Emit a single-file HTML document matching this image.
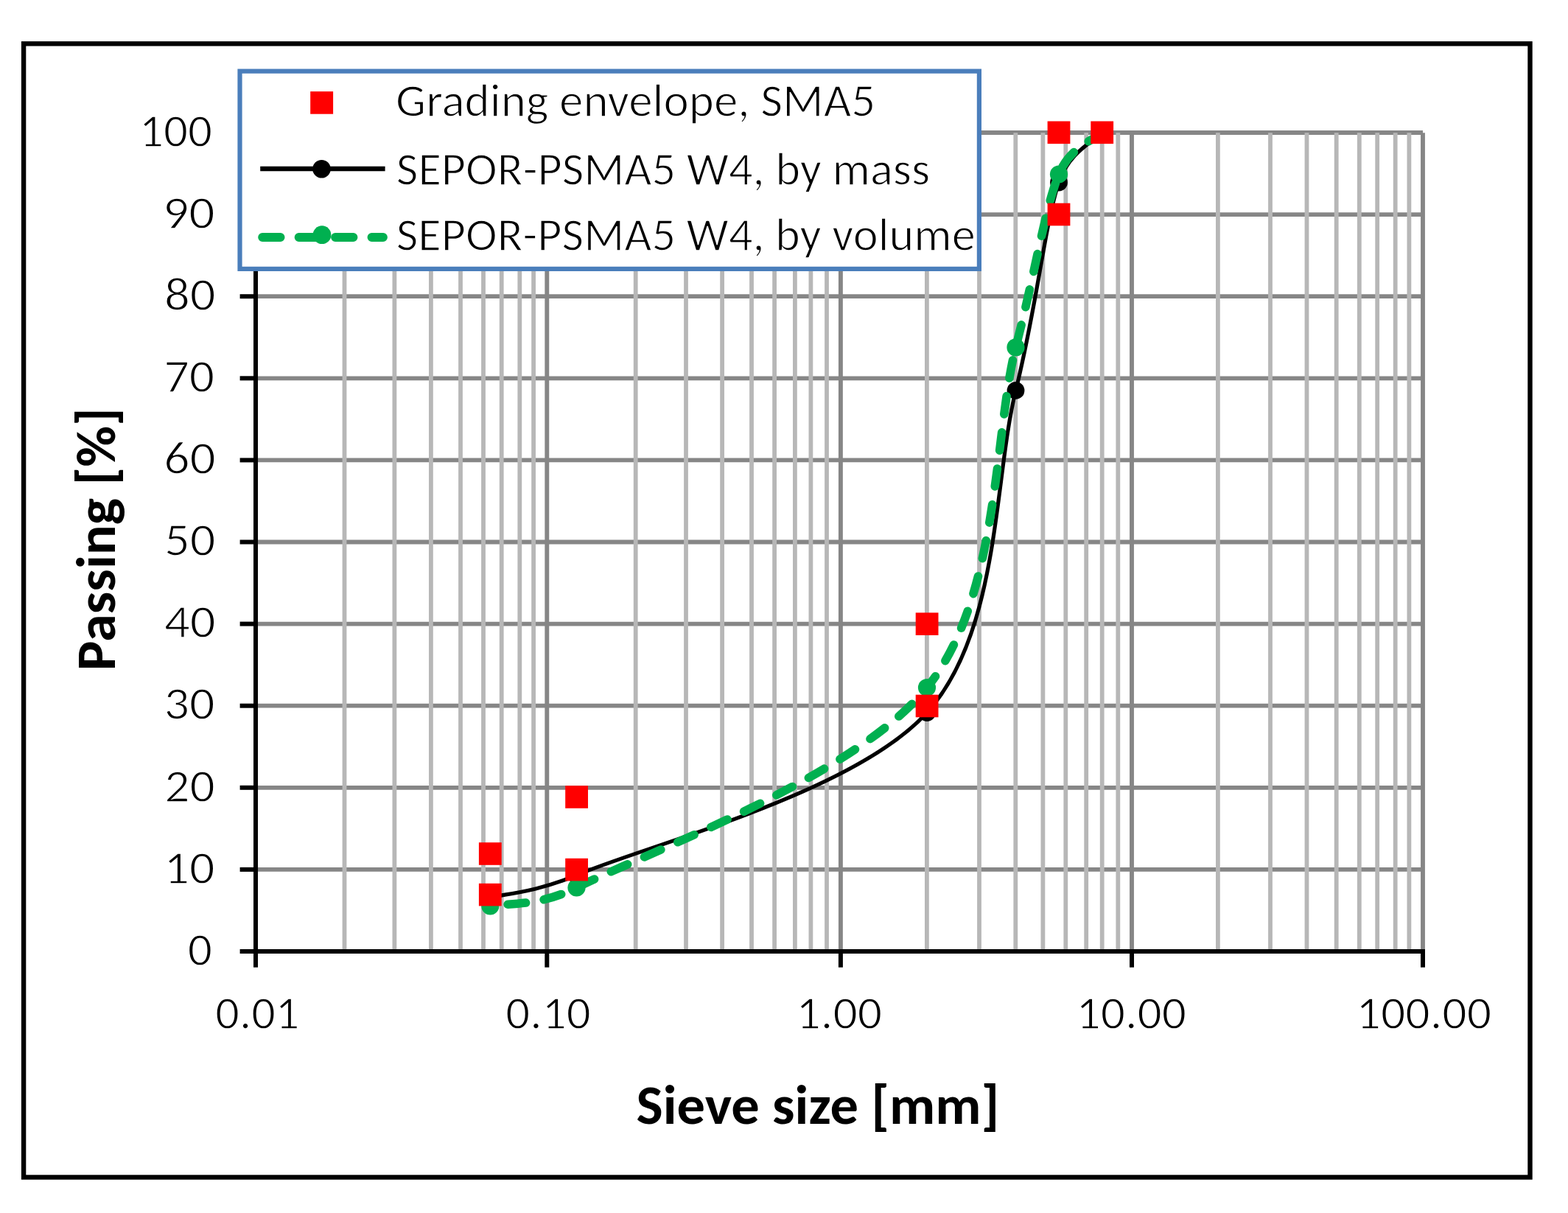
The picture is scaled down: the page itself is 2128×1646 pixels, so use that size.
<!DOCTYPE html><html><head><meta charset="utf-8"><title>Grading curve</title><style>html,body{margin:0;padding:0;background:#fff;overflow:hidden;}svg{display:block;}text{font-family:Carlito, "Liberation Sans", sans-serif;}</style></head><body>
<svg width="2128" height="1646" viewBox="0 0 2128 1646">
<rect x="0" y="0" width="2128" height="1646" fill="#fff"/>
<line x1="347" y1="1179.9" x2="1931" y2="1179.9" stroke="#868686" stroke-width="5.8"/>
<line x1="347" y1="1068.8" x2="1931" y2="1068.8" stroke="#868686" stroke-width="5.8"/>
<line x1="347" y1="957.7" x2="1931" y2="957.7" stroke="#868686" stroke-width="5.8"/>
<line x1="347" y1="846.6" x2="1931" y2="846.6" stroke="#868686" stroke-width="5.8"/>
<line x1="347" y1="735.5" x2="1931" y2="735.5" stroke="#868686" stroke-width="5.8"/>
<line x1="347" y1="624.4" x2="1931" y2="624.4" stroke="#868686" stroke-width="5.8"/>
<line x1="347" y1="513.3" x2="1931" y2="513.3" stroke="#868686" stroke-width="5.8"/>
<line x1="347" y1="402.2" x2="1931" y2="402.2" stroke="#868686" stroke-width="5.8"/>
<line x1="347" y1="291.1" x2="1931" y2="291.1" stroke="#868686" stroke-width="5.8"/>
<line x1="347" y1="180.0" x2="1931" y2="180.0" stroke="#868686" stroke-width="5.8"/>
<line x1="467.5" y1="180.3" x2="467.5" y2="1291" stroke="#b7b7b7" stroke-width="5.8"/>
<line x1="535.4" y1="180.3" x2="535.4" y2="1291" stroke="#b7b7b7" stroke-width="5.8"/>
<line x1="584.9" y1="180.3" x2="584.9" y2="1291" stroke="#b7b7b7" stroke-width="5.8"/>
<line x1="625.0" y1="180.3" x2="625.0" y2="1291" stroke="#b7b7b7" stroke-width="5.8"/>
<line x1="656.0" y1="180.3" x2="656.0" y2="1291" stroke="#b7b7b7" stroke-width="5.8"/>
<line x1="680.7" y1="180.3" x2="680.7" y2="1291" stroke="#b7b7b7" stroke-width="5.8"/>
<line x1="705.3" y1="180.3" x2="705.3" y2="1291" stroke="#b7b7b7" stroke-width="5.8"/>
<line x1="724.1" y1="180.3" x2="724.1" y2="1291" stroke="#b7b7b7" stroke-width="5.8"/>
<line x1="862.7" y1="180.3" x2="862.7" y2="1291" stroke="#b7b7b7" stroke-width="5.8"/>
<line x1="931.0" y1="180.3" x2="931.0" y2="1291" stroke="#b7b7b7" stroke-width="5.8"/>
<line x1="980.1" y1="180.3" x2="980.1" y2="1291" stroke="#b7b7b7" stroke-width="5.8"/>
<line x1="1020.0" y1="180.3" x2="1020.0" y2="1291" stroke="#b7b7b7" stroke-width="5.8"/>
<line x1="1051.1" y1="180.3" x2="1051.1" y2="1291" stroke="#b7b7b7" stroke-width="5.8"/>
<line x1="1078.9" y1="180.3" x2="1078.9" y2="1291" stroke="#b7b7b7" stroke-width="5.8"/>
<line x1="1100.4" y1="180.3" x2="1100.4" y2="1291" stroke="#b7b7b7" stroke-width="5.8"/>
<line x1="1122.0" y1="180.3" x2="1122.0" y2="1291" stroke="#b7b7b7" stroke-width="5.8"/>
<line x1="1257.9" y1="180.3" x2="1257.9" y2="1291" stroke="#b7b7b7" stroke-width="5.8"/>
<line x1="1329.0" y1="180.3" x2="1329.0" y2="1291" stroke="#b7b7b7" stroke-width="5.8"/>
<line x1="1378.3" y1="180.3" x2="1378.3" y2="1291" stroke="#b7b7b7" stroke-width="5.8"/>
<line x1="1415.4" y1="180.3" x2="1415.4" y2="1291" stroke="#b7b7b7" stroke-width="5.8"/>
<line x1="1446.3" y1="180.3" x2="1446.3" y2="1291" stroke="#b7b7b7" stroke-width="5.8"/>
<line x1="1474.2" y1="180.3" x2="1474.2" y2="1291" stroke="#b7b7b7" stroke-width="5.8"/>
<line x1="1495.7" y1="180.3" x2="1495.7" y2="1291" stroke="#b7b7b7" stroke-width="5.8"/>
<line x1="1517.3" y1="180.3" x2="1517.3" y2="1291" stroke="#b7b7b7" stroke-width="5.8"/>
<line x1="1652.9" y1="180.3" x2="1652.9" y2="1291" stroke="#b7b7b7" stroke-width="5.8"/>
<line x1="1724.0" y1="180.3" x2="1724.0" y2="1291" stroke="#b7b7b7" stroke-width="5.8"/>
<line x1="1773.5" y1="180.3" x2="1773.5" y2="1291" stroke="#b7b7b7" stroke-width="5.8"/>
<line x1="1813.7" y1="180.3" x2="1813.7" y2="1291" stroke="#b7b7b7" stroke-width="5.8"/>
<line x1="1844.8" y1="180.3" x2="1844.8" y2="1291" stroke="#b7b7b7" stroke-width="5.8"/>
<line x1="1869.2" y1="180.3" x2="1869.2" y2="1291" stroke="#b7b7b7" stroke-width="5.8"/>
<line x1="1893.7" y1="180.3" x2="1893.7" y2="1291" stroke="#b7b7b7" stroke-width="5.8"/>
<line x1="1912.4" y1="180.3" x2="1912.4" y2="1291" stroke="#b7b7b7" stroke-width="5.8"/>
<line x1="742.3" y1="180.3" x2="742.3" y2="1291" stroke="#868686" stroke-width="5.9"/>
<line x1="1140.9" y1="180.3" x2="1140.9" y2="1291" stroke="#868686" stroke-width="5.9"/>
<line x1="1536.0" y1="180.3" x2="1536.0" y2="1291" stroke="#868686" stroke-width="5.9"/>
<line x1="1931.0" y1="180.3" x2="1931.0" y2="1291" stroke="#868686" stroke-width="5.9"/>
<line x1="347" y1="177" x2="347" y2="1294.1" stroke="#000" stroke-width="6"/>
<line x1="344" y1="1291.1" x2="1934" y2="1291.1" stroke="#000" stroke-width="6"/>
<line x1="325.6" y1="1291.0" x2="347" y2="1291.0" stroke="#000" stroke-width="6"/>
<line x1="325.6" y1="1179.9" x2="347" y2="1179.9" stroke="#000" stroke-width="6"/>
<line x1="325.6" y1="1068.8" x2="347" y2="1068.8" stroke="#000" stroke-width="6"/>
<line x1="325.6" y1="957.7" x2="347" y2="957.7" stroke="#000" stroke-width="6"/>
<line x1="325.6" y1="846.6" x2="347" y2="846.6" stroke="#000" stroke-width="6"/>
<line x1="325.6" y1="735.5" x2="347" y2="735.5" stroke="#000" stroke-width="6"/>
<line x1="325.6" y1="624.4" x2="347" y2="624.4" stroke="#000" stroke-width="6"/>
<line x1="325.6" y1="513.3" x2="347" y2="513.3" stroke="#000" stroke-width="6"/>
<line x1="325.6" y1="402.2" x2="347" y2="402.2" stroke="#000" stroke-width="6"/>
<line x1="325.6" y1="291.1" x2="347" y2="291.1" stroke="#000" stroke-width="6"/>
<line x1="325.6" y1="180.0" x2="347" y2="180.0" stroke="#000" stroke-width="6"/>
<line x1="347.0" y1="1291" x2="347.0" y2="1312.7" stroke="#000" stroke-width="6"/>
<line x1="742.3" y1="1291" x2="742.3" y2="1312.7" stroke="#000" stroke-width="6"/>
<line x1="1140.9" y1="1291" x2="1140.9" y2="1312.7" stroke="#000" stroke-width="6"/>
<line x1="1536.0" y1="1291" x2="1536.0" y2="1312.7" stroke="#000" stroke-width="6"/>
<line x1="1931.0" y1="1291" x2="1931.0" y2="1312.7" stroke="#000" stroke-width="6"/>
<text x="189.06" y="198.70" font-size="63" textLength="99.08" lengthAdjust="spacingAndGlyphs" fill="#000" stroke="#fff" stroke-width="1.4">100</text>
<text x="220.97" y="309.70" font-size="63" textLength="70.66" lengthAdjust="spacingAndGlyphs" fill="#000" stroke="#fff" stroke-width="1.4">90</text>
<text x="222.98" y="420.50" font-size="63" textLength="69.65" lengthAdjust="spacingAndGlyphs" fill="#000" stroke="#fff" stroke-width="1.4">80</text>
<text x="222.49" y="531.50" font-size="63" textLength="68.65" lengthAdjust="spacingAndGlyphs" fill="#000" stroke="#fff" stroke-width="1.4">70</text>
<text x="222.17" y="643.30" font-size="63" textLength="70.46" lengthAdjust="spacingAndGlyphs" fill="#000" stroke="#fff" stroke-width="1.4">60</text>
<text x="223.14" y="753.90" font-size="63" textLength="69.49" lengthAdjust="spacingAndGlyphs" fill="#000" stroke="#fff" stroke-width="1.4">50</text>
<text x="222.92" y="865.30" font-size="63" textLength="69.71" lengthAdjust="spacingAndGlyphs" fill="#000" stroke="#fff" stroke-width="1.4">40</text>
<text x="222.58" y="976.40" font-size="63" textLength="69.05" lengthAdjust="spacingAndGlyphs" fill="#000" stroke="#fff" stroke-width="1.4">30</text>
<text x="223.17" y="1088.20" font-size="63" textLength="68.46" lengthAdjust="spacingAndGlyphs" fill="#000" stroke="#fff" stroke-width="1.4">20</text>
<text x="222.56" y="1198.90" font-size="63" textLength="69.08" lengthAdjust="spacingAndGlyphs" fill="#000" stroke="#fff" stroke-width="1.4">10</text>
<text x="254.87" y="1309.90" font-size="63" textLength="33.26" lengthAdjust="spacingAndGlyphs" fill="#000" stroke="#fff" stroke-width="1.4">0</text>
<text x="292.37" y="1396.10" font-size="63" textLength="113.96" lengthAdjust="spacingAndGlyphs" fill="#000" stroke="#fff" stroke-width="1.4">0.01</text>
<text x="686.37" y="1396.10" font-size="63" textLength="115.26" lengthAdjust="spacingAndGlyphs" fill="#000" stroke="#fff" stroke-width="1.4">0.10</text>
<text x="1080.56" y="1396.10" font-size="63" textLength="116.58" lengthAdjust="spacingAndGlyphs" fill="#000" stroke="#fff" stroke-width="1.4">1.00</text>
<text x="1460.56" y="1396.10" font-size="63" textLength="149.58" lengthAdjust="spacingAndGlyphs" fill="#000" stroke="#fff" stroke-width="1.4">10.00</text>
<text x="1840.56" y="1396.10" font-size="63" textLength="183.58" lengthAdjust="spacingAndGlyphs" fill="#000" stroke="#fff" stroke-width="1.4">100.00</text>
<text x="863.61" y="1525.20" font-size="75" font-weight="bold" textLength="492.81" lengthAdjust="spacingAndGlyphs" fill="#000">Sieve size [mm]</text>
<text transform="translate(155.8,910.21) rotate(-90)" x="0" y="0" font-size="75" font-weight="bold" textLength="357.13" lengthAdjust="spacingAndGlyphs" fill="#000">Passing [%]</text>
<path d="M665.3,1218.0 C684.8,1212.9 726.8,1211.1 782.6,1187.5 C881.4,1145.7 1158.7,1076.6 1258.0,967.0 C1357.3,857.4 1348.7,649.8 1378.5,529.9 C1408.3,410.0 1417.5,305.8 1437.0,247.5 C1451.2,205.1 1485.9,191.2 1495.7,180.0" fill="none" stroke="#000" stroke-width="5.2" stroke-linejoin="round"/>
<circle cx="665.3" cy="1218" r="11.9" fill="#000"/>
<circle cx="782.6" cy="1187.5" r="11.9" fill="#000"/>
<circle cx="1258" cy="967" r="11.9" fill="#000"/>
<circle cx="1378.5" cy="529.9" r="11.9" fill="#000"/>
<circle cx="1437" cy="247.5" r="11.9" fill="#000"/>
<circle cx="1495.7" cy="180" r="11.9" fill="#000"/>
<path d="M665.3,1229.4 C684.8,1225.2 728.9,1231.3 782.5,1204.5 C881.3,1155.1 1158.7,1055.2 1258.0,933.0 C1357.3,810.8 1348.7,587.5 1378.5,471.4 C1408.3,355.3 1417.5,285.1 1437.0,236.5 C1452.2,198.7 1485.9,189.4 1495.7,180.0" fill="none" stroke="#00b050" stroke-width="11.6" stroke-linecap="round" stroke-linejoin="round" stroke-dasharray="24.5 24.95" stroke-dashoffset="25.3"/>
<circle cx="665.3" cy="1229.4" r="12.1" fill="#00b050"/>
<circle cx="782.5" cy="1204.5" r="12.1" fill="#00b050"/>
<circle cx="1258" cy="933" r="12.1" fill="#00b050"/>
<circle cx="1378.5" cy="471.4" r="12.1" fill="#00b050"/>
<circle cx="1437" cy="236.5" r="12.1" fill="#00b050"/>
<circle cx="1495.7" cy="180" r="12.1" fill="#00b050"/>
<rect x="649.9" y="1143.2" width="30.8" height="30.6" fill="#ff0000"/>
<rect x="649.9" y="1198.8" width="30.8" height="30.6" fill="#ff0000"/>
<rect x="767.2" y="1066.2" width="30.8" height="30.6" fill="#ff0000"/>
<rect x="767.2" y="1164.8" width="30.8" height="30.6" fill="#ff0000"/>
<rect x="1242.7" y="831.4" width="30.8" height="30.6" fill="#ff0000"/>
<rect x="1242.7" y="942.7" width="30.8" height="30.6" fill="#ff0000"/>
<rect x="1421.6" y="164.5" width="30.8" height="30.6" fill="#ff0000"/>
<rect x="1421.6" y="275.7" width="30.8" height="30.6" fill="#ff0000"/>
<rect x="1480.3" y="164.5" width="30.8" height="30.6" fill="#ff0000"/>
<rect x="325.5" y="96.6" width="1003.4" height="268.3" fill="#fff" stroke="#4a7ebb" stroke-width="6.2"/>
<rect x="421.2" y="124.1" width="30.9" height="30.6" fill="#ff0000"/>
<line x1="353.2" y1="229" x2="522.6" y2="229" stroke="#000" stroke-width="6.3"/>
<circle cx="436.5" cy="229.2" r="12.3" fill="#000"/>
<line x1="356.1" y1="322" x2="520" y2="322" stroke="#00b050" stroke-width="11.8" stroke-linecap="round" stroke-dasharray="24.5 24.95"/>
<circle cx="437" cy="318.7" r="12.4" fill="#00b050"/>
<text x="537.13" y="157.80" font-size="63" textLength="651.09" lengthAdjust="spacingAndGlyphs" fill="#000" stroke="#fff" stroke-width="1.4">Grading envelope, SMA5</text>
<text x="537.81" y="250.60" font-size="63" textLength="724.31" lengthAdjust="spacingAndGlyphs" fill="#000" stroke="#fff" stroke-width="1.4">SEPOR-PSMA5 W4, by mass</text>
<text x="537.81" y="339.60" font-size="63" textLength="785.97" lengthAdjust="spacingAndGlyphs" fill="#000" stroke="#fff" stroke-width="1.4">SEPOR-PSMA5 W4, by volume</text>
<rect x="32.1" y="59.3" width="2044.4" height="1538.2" fill="none" stroke="#000" stroke-width="6.4"/>
</svg></body></html>
